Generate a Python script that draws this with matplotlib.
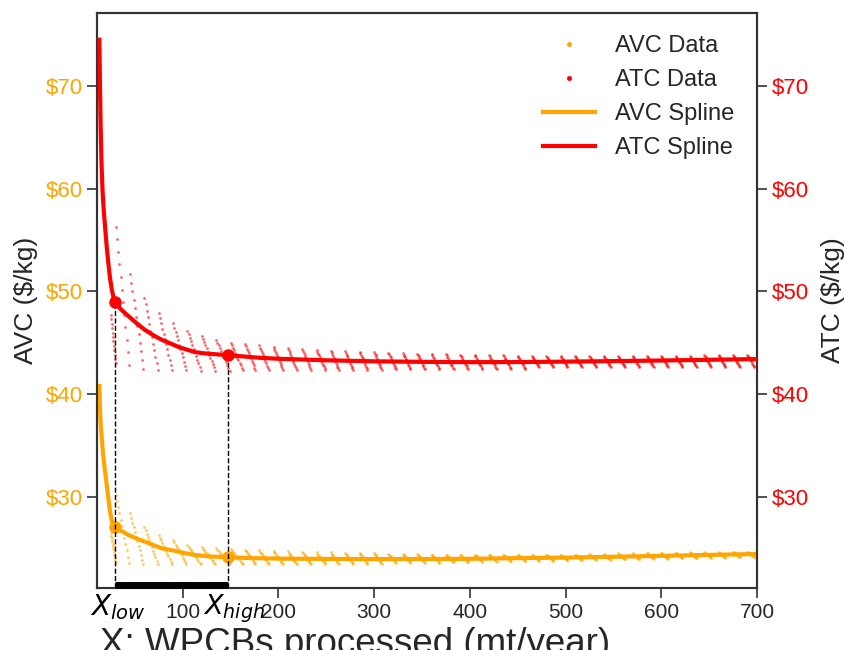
import matplotlib
matplotlib.use("Agg")
import matplotlib.pyplot as plt
import numpy as np
from matplotlib.ticker import FuncFormatter, FixedLocator
from matplotlib.lines import Line2D

plt.rcParams['font.family'] = ['Liberation Sans', 'DejaVu Sans']

# ---------------- data ----------------
# spline curves
atc_x = [13.0, 13.6, 14.3, 15.2, 16.3, 17.6, 19.0, 20.6, 22.3, 24.1, 25.9, 27.6, 29.3,
         35, 43.4, 52, 60.7, 70, 78, 87, 95.5, 104, 112.8, 122, 130, 140, 147, 160, 180,
         200, 250, 300, 350, 400, 450, 500, 550, 600, 650, 700]
atc_y = [74.5, 70.0, 66.0, 62.5, 59.8, 57.8, 56.2, 54.4, 52.8, 51.3, 50.2, 49.5, 49.0,
         48.3, 47.6, 46.9, 46.25, 45.7, 45.3, 44.95, 44.6, 44.35, 44.1, 43.98, 43.92, 43.85, 43.8, 43.7, 43.55,
         43.45, 43.3, 43.2, 43.15, 43.12, 43.13, 43.17, 43.22, 43.28, 43.35, 43.42]
avc_x = [13.0, 13.5, 14.3, 15.4, 16.8, 18.9, 20.6, 22.3, 24.1, 25.9, 27.6, 29.3,
         35, 43.4, 52, 60.7, 70, 78, 87, 95.5, 104, 112.8, 122, 130, 147, 170,
         200, 250, 300, 350, 400, 450, 500, 550, 600, 650, 700]
avc_y = [40.8, 39.0, 37.2, 35.8, 34.2, 32.5, 31.2, 29.9, 28.6, 27.7, 27.3, 27.05,
         26.75, 26.3, 25.95, 25.65, 25.3, 25.0, 24.85, 24.68, 24.5, 24.35, 24.27, 24.2, 24.13, 24.05,
         24.0, 23.97, 23.95, 23.96, 23.98, 24.05, 24.1, 24.18, 24.27, 24.36, 24.45]

# data streaks (each: start x, width in x, top and bottom values)
streak_x0 = [25, 30, 45, 60, 75, 90, 105, 120, 135, 150, 165, 180, 195, 210, 225, 240,
             255, 270, 285, 300, 315, 330, 345, 360, 375, 390, 405, 420, 435, 450, 465,
             480, 495, 510, 525, 540, 555, 570, 585, 600, 615, 630, 645, 660, 675, 690]
streak_w = [5, 14, 14, 14, 14, 14, 14, 14, 14, 13, 11, 10, 10, 9, 9, 9,
            8, 8, 8, 8, 8, 8, 8, 8, 8, 8, 8, 8, 8, 8, 7,
            7, 7, 7, 7, 7, 7, 7, 7, 7, 7, 7, 7, 7, 7, 7]
atc_top = [47.7, 56.3, 51.7, 49.4, 47.9, 46.9, 46.2, 45.7, 45.3, 45.0, 44.9, 44.75, 44.6, 44.5, 44.4, 44.3,
           44.25, 44.2, 44.15, 44.1, 44.05, 44.0, 43.95, 43.9, 43.9, 43.85, 43.85, 43.8, 43.8, 43.75, 43.75,
           43.75, 43.7, 43.7, 43.7, 43.7, 43.7, 43.7, 43.7, 43.75, 43.75, 43.75, 43.8, 43.8, 43.8, 43.85]
atc_bot = [43.0, 42.85, 42.5, 42.35, 42.35, 42.35, 42.3, 42.3, 42.3, 42.35, 42.35, 42.35, 42.35, 42.35, 42.35, 42.35,
           42.35, 42.35, 42.35, 42.35, 42.45, 42.45, 42.45, 42.45, 42.45, 42.45, 42.45, 42.45, 42.45, 42.45, 42.65,
           42.65, 42.65, 42.65, 42.65, 42.65, 42.65, 42.65, 42.65, 42.65, 42.65, 42.65, 42.65, 42.65, 42.65, 42.65]
avc_top = [26.5, 30.2, 28.4, 27.1, 26.3, 25.8, 25.3, 25.1, 25.0, 24.9, 24.85, 24.8, 24.75, 24.7, 24.65, 24.6,
           24.6, 24.55, 24.55, 24.5, 24.45, 24.45, 24.45, 24.4, 24.4, 24.4, 24.4, 24.4, 24.4, 24.4, 24.4,
           24.4, 24.4, 24.4, 24.45, 24.45, 24.5, 24.5, 24.55, 24.55, 24.55, 24.6, 24.6, 24.6, 24.65, 24.65]
avc_bot = [23.6, 23.6, 23.45, 23.45, 23.45, 23.45, 23.45, 23.45, 23.45, 23.45, 23.45, 23.45, 23.45, 23.45, 23.45, 23.45,
           23.45, 23.45, 23.45, 23.5, 23.6, 23.6, 23.6, 23.6, 23.65, 23.65, 23.7, 23.7, 23.75, 23.75, 23.8,
           23.8, 23.85, 23.85, 23.9, 23.9, 23.95, 23.95, 24.0, 24.0, 24.05, 24.05, 24.1, 24.1, 24.15, 24.15]
dots_per_streak = 12

x_low, x_high = 29.3, 147.0
atc_low, atc_high = 49.0, 43.8
avc_low, avc_high = 27.05, 24.13

y_ticks = [30, 40, 50, 60, 70]
x_ticks = [100, 200, 300, 400, 500, 600, 700]

ORANGE = '#FFA500'
RED = '#FF0000'
DARK = '#262626'
SPINE = '#333333'

# ---------------- figure ----------------
fig = plt.figure(figsize=(8.45, 6.5), dpi=100)
ax = fig.add_axes([97 / 845, 1 - 588 / 650, 660 / 845, 575 / 650])
ax2 = ax.twinx()

ylim = (21.14, 77.1)
xlim = (10.5, 700)


def streak_points(tops, bots):
    xs, ys = [], []
    for x0, w, t, b in zip(streak_x0, streak_w, tops, bots):
        xs.append(np.linspace(x0, x0 + w, dots_per_streak))
        ys.append(np.linspace(t, b, dots_per_streak))
    return np.concatenate(xs), np.concatenate(ys)


avx, avy = streak_points(avc_top, avc_bot)
atx, aty = streak_points(atc_top, atc_bot)

ax.scatter(avx, avy, s=4, color=ORANGE, alpha=0.6, linewidths=0, zorder=2)
ax.plot(avc_x, avc_y, color=ORANGE, lw=3, zorder=3)
ax.plot([x_low, x_high], [avc_low, avc_high], 'o', color=ORANGE, ms=8, zorder=4)

ax2.scatter(atx, aty, s=4, color=RED, alpha=0.6, linewidths=0, zorder=2)
ax2.plot(atc_x, atc_y, color=RED, lw=3, zorder=3)
ax2.plot([x_low, x_high], [atc_low, atc_high], 'o', color=RED, ms=8, zorder=4)

# dashed guides and range bar
for xv, yv in [(x_low, atc_low), (x_high, atc_high)]:
    ax2.plot([xv, xv], [ylim[0], yv], ls='--', color='black', lw=1, zorder=1)
ax2.plot([x_low, x_high], [ylim[0] + 0.28, ylim[0] + 0.28], color='black', lw=5,
         solid_capstyle='butt', zorder=5, clip_on=False)

for a in (ax, ax2):
    a.set_xlim(*xlim)
    a.set_ylim(*ylim)
    a.yaxis.set_major_locator(FixedLocator(y_ticks))
    a.yaxis.set_major_formatter(FuncFormatter(lambda v, p: r'\$%d' % v))
    for s in a.spines.values():
        s.set_color(SPINE)
        s.set_linewidth(1.5)

ax.xaxis.set_major_locator(FixedLocator(x_ticks))
ax.tick_params(axis='both', direction='out', length=7, width=1.2, color=SPINE)
ax.tick_params(axis='x', labelsize=15, labelcolor=DARK, pad=4)
ax.tick_params(axis='y', labelsize=16, labelcolor=ORANGE, pad=3)
ax2.tick_params(axis='y', direction='out', length=7, width=1.2, color=SPINE,
                labelsize=16, labelcolor=RED, pad=4)

ax.set_ylabel(r'AVC (\$/kg)', fontsize=19, color=DARK, labelpad=6)
ax2.set_ylabel(r'ATC (\$/kg)', fontsize=19, color=DARK, labelpad=8)
ax.set_xlabel('X: WPCBs processed (mt/year)', fontsize=26.5, color=DARK)
ax.xaxis.set_label_coords(0.391, -0.068)

trans = matplotlib.transforms.blended_transform_factory(ax.transData, ax.transAxes)
ax.text(x_low + 2.8, -0.008, r'$X_{low}$', transform=trans, ha='center', va='top', fontsize=20, color='black')
ax.text(x_high + 7, -0.008, r'$X_{high}$', transform=trans, ha='center', va='top', fontsize=19.5, color='black')

leg_handles = [Line2D([], [], ls='', marker='o', ms=2.5, color=ORANGE),
               Line2D([], [], ls='', marker='o', ms=2.5, color=RED),
               Line2D([], [], color=ORANGE, lw=3),
               Line2D([], [], color=RED, lw=3)]
ax2.legend(leg_handles, ['AVC Data', 'ATC Data', 'AVC Spline', 'ATC Spline'],
           loc='upper right', frameon=False, fontsize=17, labelcolor=DARK,
           handlelength=2.2, handletextpad=0.85, labelspacing=0.5, borderaxespad=0.55)

fig.savefig('out.png', dpi=100)
